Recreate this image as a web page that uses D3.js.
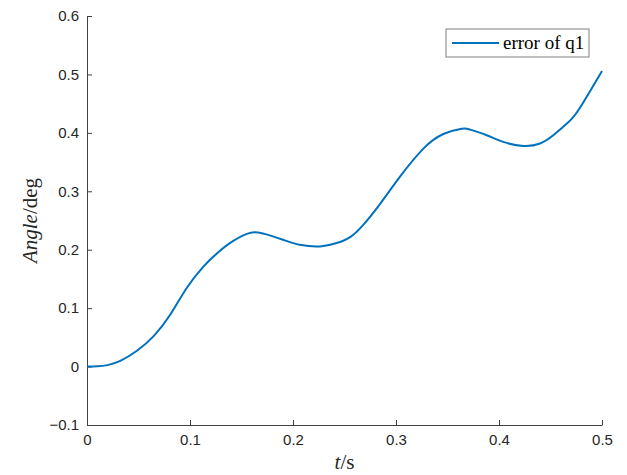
<!DOCTYPE html>
<html>
<head>
<meta charset="utf-8">
<script src="https://cdn.jsdelivr.net/npm/d3@7"></script>
<style>
  body { margin: 0; background: #fff; }
  .tick text { font-family: "Liberation Sans", Arial, sans-serif; font-size: 15px; fill: #262626; }
</style>
</head>
<body>
<div id="chart"></div>
<script>
// Plot constants
const WIDTH = 627;
const HEIGHT = 475;
const margin = { left: 87, top: 16, right: 25, bottom: 50 };

// Data
const times = [0, 0.01, 0.02, 0.0323, 0.0485, 0.0647, 0.0809, 0.097, 0.113, 0.125, 0.142,
  0.1583, 0.1663, 0.1742, 0.1904, 0.2066, 0.2263, 0.2424, 0.2555, 0.268, 0.2844, 0.3039, 0.3266,
  0.346, 0.3638, 0.372, 0.388, 0.4041, 0.4236, 0.4398, 0.4527, 0.4673, 0.4786, 0.5];
const errors = [0, 0.0004, 0.0025, 0.0097, 0.027, 0.052, 0.089, 0.135, 0.171, 0.192, 0.215,
  0.2288, 0.2293, 0.2262, 0.217, 0.2085, 0.2056, 0.2114, 0.2216, 0.242, 0.278, 0.325, 0.373,
  0.398, 0.407, 0.4056, 0.396, 0.3845, 0.3777, 0.3818, 0.396, 0.418, 0.443, 0.506];
const xTicks = [0, 0.1, 0.2, 0.3, 0.4, 0.5];
const yTicks = [-0.1, 0, 0.1, 0.2, 0.3, 0.4, 0.5, 0.6];
const seriesName = "error of q1";

const svg = d3.select("#chart").append("svg")
  .attr("width", WIDTH)
  .attr("height", HEIGHT);

const x = d3.scaleLinear().domain([0, 0.5]).range([margin.left, WIDTH - margin.right]);
const y = d3.scaleLinear().domain([-0.1, 0.6]).range([HEIGHT - margin.bottom, margin.top]);

// Axes (ticks pointing inward, MATLAB style)
const xAxis = d3.axisBottom(x).tickValues(xTicks).tickSizeInner(-5).tickSizeOuter(0)
  .tickPadding(9).tickFormat(d => d === 0 ? "0" : d3.format(".1f")(d));
const yAxis = d3.axisLeft(y).tickValues(yTicks).tickSizeInner(-5).tickSizeOuter(0)
  .tickPadding(8).tickFormat(d => d === 0 ? "0" : d3.format(".1f")(d).replace("-", "\u2212"));

const gx = svg.append("g")
  .attr("transform", `translate(0,${y(-0.1)})`)
  .call(xAxis);
const gy = svg.append("g")
  .attr("transform", `translate(${x(0)},0)`)
  .call(yAxis);
[gx, gy].forEach(g => {
  g.select(".domain").attr("stroke", "#404040").attr("stroke-width", 1);
  g.selectAll(".tick line").attr("stroke", "#404040");
});

// Line
const line = d3.line()
  .x((d, i) => x(times[i]))
  .y(d => y(d))
  .curve(d3.curveNatural);

svg.append("path")
  .datum(errors)
  .attr("fill", "none")
  .attr("stroke", "#0072BD")
  .attr("stroke-width", 2)
  .attr("d", line);

// Axis labels
const xl = svg.append("text")
  .attr("x", x(0.25))
  .attr("y", 469)
  .attr("text-anchor", "middle")
  .attr("font-family", "'Liberation Serif', 'Times New Roman', serif")
  .attr("font-size", 21)
  .attr("fill", "#262626");
xl.append("tspan").attr("font-style", "italic").text("t");
xl.append("tspan").text("/s");

const yl = svg.append("text")
  .attr("transform", `translate(37,${y(0.25)}) rotate(-90)`)
  .attr("text-anchor", "middle")
  .attr("font-family", "'Liberation Serif', 'Times New Roman', serif")
  .attr("font-size", 21)
  .attr("fill", "#262626");
yl.append("tspan").attr("font-style", "italic").text("Angle");
yl.append("tspan").text("/deg");

// Legend
const legend = svg.append("g").attr("transform", "translate(446,29)");
legend.append("rect")
  .attr("width", 143)
  .attr("height", 28)
  .attr("fill", "#fff")
  .attr("stroke", "#7f7f7f")
  .attr("stroke-width", 1);
legend.append("line")
  .attr("x1", 6).attr("x2", 53)
  .attr("y1", 14).attr("y2", 14)
  .attr("stroke", "#0072BD")
  .attr("stroke-width", 2);
legend.append("text")
  .attr("x", 57)
  .attr("y", 20)
  .attr("font-family", "'Liberation Serif', 'Times New Roman', serif")
  .attr("font-size", 19)
  .attr("fill", "#000")
  .text(seriesName);
</script>
</body>
</html>
